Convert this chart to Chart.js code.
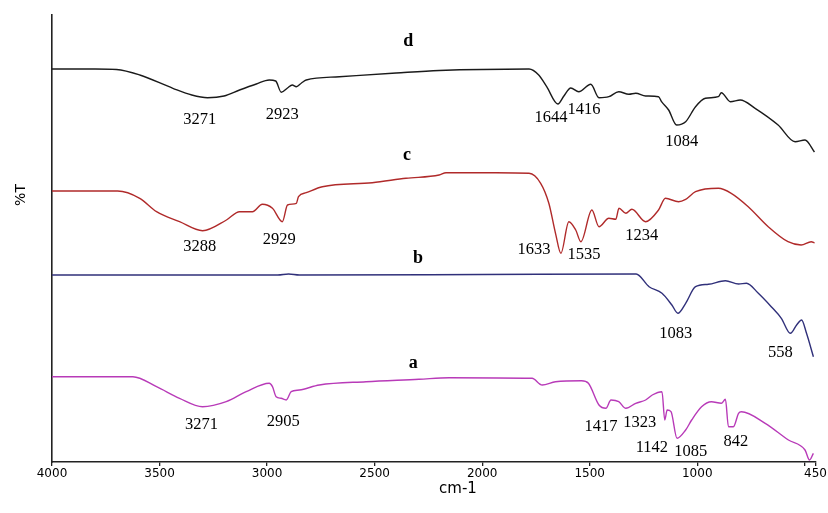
<!DOCTYPE html>
<html>
<head>
<meta charset="utf-8">
<script src="https://cdn.jsdelivr.net/npm/chart.js@4.4.1/dist/chart.umd.min.js"></script>
<style>
html,body{margin:0;padding:0;background:#fff;}
#wrap{width:828px;height:513px;position:relative;}
</style>
</head>
<body>
<div id="wrap"><canvas id="c" width="828" height="513"></canvas></div>
<script>
// Wavenumbers (cm-1) and %T (arbitrary offset units) for each spectrum
const wnD = [4000,3800,3700,3592,3438,3350,3277,3200,3128,3050,2990,2960,2934,2905,2883,2864,2840,2818,2664,2400,2200,1782,1737,1700,1648,1620,1588,1551,1495,1457,1411,1365,1318,1286,1240,1180,1166,1133,1096,1054,1008,962,902,888,846,800,731,624,545,499,455];
const tD  = [393,393,392.5,387,373.7,367,364.3,366,372,378,382,381,369.7,374,377,375.3,379,382,385.3,389,391.5,393,387,375.3,358,366,374,370.3,377.7,364.3,365.3,370.3,367.7,368.7,366,365.3,360.3,352,337,340.3,355.3,363.7,365.3,369.3,360.3,362,353.7,337,320.3,322,310];

const wnC = [4000,3800,3695,3592,3514,3407,3300,3189,3128,3068,3022,2975,2929,2905,2864,2854,2818,2743,2511,2354,2200,2168,1936,1782,1728,1690,1659,1634,1597,1565,1541,1490,1457,1411,1379,1364,1332,1304,1240,1180,1148,1087,1054,1008,902,842,763,670,578,517,470,455];
const tC  = [271,271,271,263.7,250.3,240.3,231.3,242,250.3,250.3,257.7,253.7,240.3,257,258.7,265.3,269.3,275.3,279.3,283.7,287,289.3,289.3,288.7,278.7,258.7,228.7,208.7,240.3,232,220.3,252,235.3,243.7,242.7,253.7,248.7,252.7,240.3,252,263.7,260.3,262.7,270.3,273.7,268.7,255.3,235.3,220.3,217,220.3,219];

const wnB = [4000,3500,2950,2900,2850,2000,1284,1224,1164,1118,1090,1054,1008,948,869,808,771,716,656,609,567,538,515,492,460];
const tB  = [187,187,187,188,187,187.5,188,175.3,168.7,157,148.7,158.7,175.3,177.7,181.3,178,178.7,168.7,155.3,143.7,128.7,137,142,128.7,105.3];

const wnA = [4000,3624,3514,3407,3300,3190,3097,2990,2975,2958,2935,2920,2911,2888,2850,2757,2540,2294,2154,1768,1721,1659,1538,1506,1457,1425,1401,1365,1332,1286,1240,1209,1164,1151,1140,1122,1094,1054,1026,980,934,888,869,855,832,808,795,684,576,499,478,460];
const tA  = [85.3,85.3,75.3,63.7,55.3,60.3,70.3,78.7,75.3,65.3,63.7,62.7,62,70.3,72,77,80.3,82.7,84.3,83.7,77,80.3,81.3,78.7,57,53.7,62,60.3,53.7,58.7,62,67,70.3,42,52,50.3,23.7,32,42,55.3,60.3,58.7,62.7,35.3,35.3,48.7,50.3,38.7,22,12,2,8.7];

const xTickValues = [4000,3500,3000,2500,2000,1500,1000,500,450];
const xTickLabels = ['4000','3500','3000','2500','2000','1500','1000','','450'];

const seriesNames = ['d','c','b','a'];
const seriesLabelWn = [2344,2349,2298,2321];
const seriesLabelT  = [421,307,204,99];

const peakTexts = ['3271','2923','1644','1416','1084','3288','2929','1633','1535','1234','1083','558','3271','2905','1417','1323','1142','1085','842'];
const peakWn    = [3313,2929,1680,1527,1072,3313,2943,1759,1527,1258,1100,613,3305,2925,1448,1267,1211,1030,821];
const peakT     = [342,347,344,352,320,215,222,212,207,226,128,109,37,40,35,39,14,10,20];

function pts(w,t){return w.map((x,i)=>({x:x,y:t[i]}));}

const textPlugin = {
  id:'texts',
  afterDraw(chart){
    const ctx = chart.ctx, xs = chart.scales.x, ys = chart.scales.y;
    ctx.save();
    ctx.fillStyle = '#000';
    ctx.textAlign = 'center';
    ctx.textBaseline = 'middle';
    ctx.font = '16.5px "Liberation Serif", serif';
    peakTexts.forEach((t,i)=>{
      ctx.fillText(t, xs.getPixelForValue(peakWn[i]), ys.getPixelForValue(peakT[i]));
    });
    ctx.font = 'bold 18px "Liberation Serif", serif';
    seriesNames.forEach((t,i)=>{
      ctx.fillText(t, xs.getPixelForValue(seriesLabelWn[i]), ys.getPixelForValue(seriesLabelT[i]));
    });
    ctx.font = '15px "DejaVu Sans", sans-serif';
    ctx.fillText('cm-1', 458, 489);
    ctx.translate(21, 195);
    ctx.rotate(-Math.PI/2);
    ctx.font = '14px "DejaVu Sans", sans-serif';
    ctx.fillText('%T', 0, 0);
    ctx.restore();
  }
};

const common = {fill:false, pointRadius:0, borderWidth:1.4, cubicInterpolationMode:'monotone'};

new Chart(document.getElementById('c'), {
  type:'line',
  data:{
    datasets:[
      Object.assign({label:'d', data:pts(wnD,tD), borderColor:'#1a1a1a'}, common),
      Object.assign({label:'c', data:pts(wnC,tC), borderColor:'#b02a2a'}, common),
      Object.assign({label:'b', data:pts(wnB,tB), borderColor:'#30307a'}, common),
      Object.assign({label:'a', data:pts(wnA,tA), borderColor:'#b83ab8'}, common)
    ]
  },
  options:{
    responsive:false,
    animation:false,
    layout:{padding:{top:15, right:11, left:0, bottom:0}},
    plugins:{legend:{display:false}, tooltip:{enabled:false}},
    scales:{
      x:{
        type:'linear', reverse:true, min:450, max:4000,
        afterBuildTicks(s){ s.ticks = xTickValues.map(v=>({value:v})); },
        afterFit(s){ s.height = 51; },
        ticks:{
          autoSkip:false, maxRotation:0, padding:1,
          color:'#000', font:{family:'"DejaVu Sans", sans-serif', size:12},
          callback(v){ const i = xTickValues.indexOf(v); return i>=0 ? xTickLabels[i] : ''; }
        },
        grid:{display:true, drawOnChartArea:false, drawTicks:true, tickLength:4, color:'#222', lineWidth:1.3},
        border:{display:true, color:'#222', width:1.6}
      },
      y:{
        type:'linear', min:0, max:447,
        afterFit(s){ s.width = 52; },
        ticks:{display:false},
        grid:{display:false},
        border:{display:true, color:'#222', width:1.6}
      }
    }
  },
  plugins:[textPlugin]
});
</script>
</body>
</html>
